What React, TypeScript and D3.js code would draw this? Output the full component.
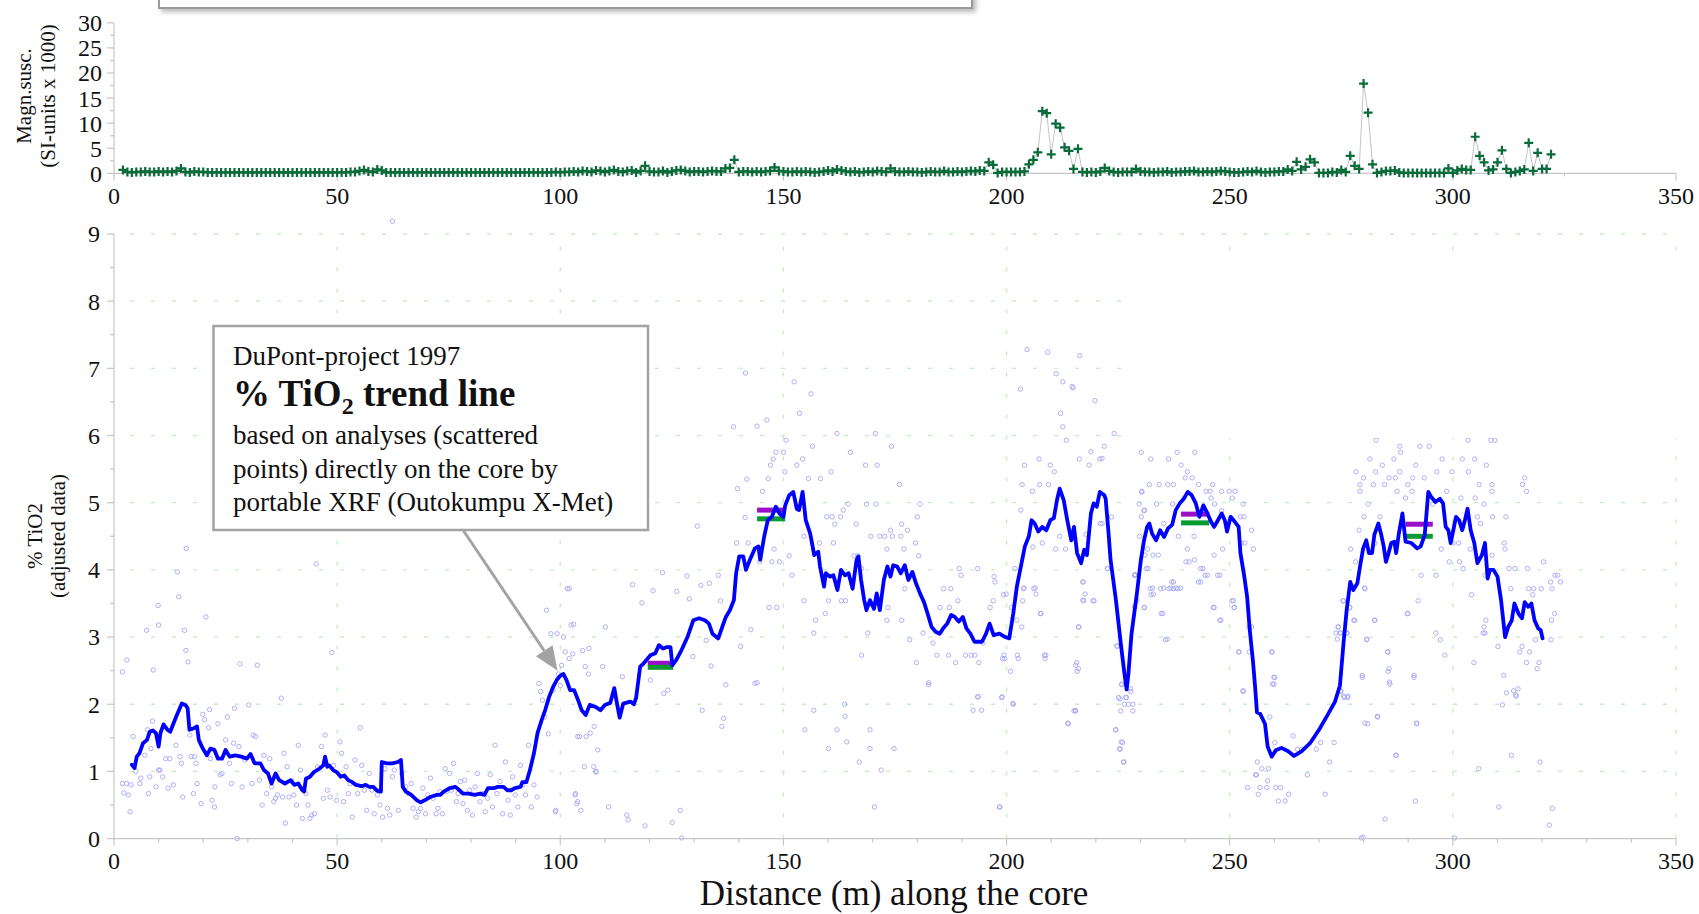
import React from "react";
import * as d3 from "d3";

const SERIF = "'Times New Roman', 'Liberation Serif', 'DejaVu Serif', serif";

// Axis tick values
const X_TICKS = [0, 50, 100, 150, 200, 250, 300, 350];
const MAG_TICKS = [0, 5, 10, 15, 20, 25, 30];
const TIO2_TICKS = [0, 1, 2, 3, 4, 5, 6, 7, 8, 9];

// Magnetic susceptibility, one reading per metre starting at 2 m
const MAG_START_M = 2;
const MAG_STEP_M = 1;
const MAG_VALUES = [
  0.7, 0.3, 0.2, 0.3, 0.3, 0.4, 0.3, 0.3, 0.4, 0.3,
  0.4, 0.3, 0.5, 1.0, 0.3, 0.2, 0.4, 0.3, 0.3, 0.2,
  0.2, 0.2, 0.2, 0.2, 0.2, 0.2, 0.2, 0.2, 0.2, 0.2,
  0.2, 0.2, 0.2, 0.2, 0.2, 0.2, 0.2, 0.2, 0.2, 0.2,
  0.2, 0.2, 0.2, 0.2, 0.2, 0.2, 0.2, 0.2, 0.2, 0.2,
  0.2, 0.3, 0.3, 0.5, 0.7, 0.4, 0.3, 0.8, 0.6, 0.2,
  0.2, 0.2, 0.2, 0.2, 0.2, 0.2, 0.2, 0.2, 0.2, 0.2,
  0.2, 0.2, 0.2, 0.2, 0.2, 0.2, 0.2, 0.2, 0.2, 0.2,
  0.2, 0.2, 0.2, 0.2, 0.2, 0.2, 0.2, 0.2, 0.2, 0.2,
  0.2, 0.2, 0.2, 0.2, 0.2, 0.2, 0.2, 0.3, 0.2, 0.3,
  0.3, 0.4, 0.3, 0.5, 0.4, 0.3, 0.6, 0.5, 0.3, 0.5,
  0.7, 0.4, 0.3, 0.5, 0.6, 0.2, 0.5, 1.5, 0.4, 0.3,
  0.3, 0.5, 0.2, 0.4, 0.6, 0.7, 0.5, 0.3, 0.4, 0.4,
  0.3, 0.4, 0.5, 0.4, 0.4, 1.0, 1.1, 2.7, 0.3, 0.4,
  0.4, 0.3, 0.4, 0.3, 0.4, 0.5, 1.2, 0.5, 0.4, 0.3,
  0.3, 0.4, 0.3, 0.4, 0.3, 0.2, 0.3, 0.4, 0.6, 0.4,
  0.8, 0.6, 0.4, 0.3, 0.4, 0.2, 0.3, 0.4, 0.3, 0.5,
  0.4, 0.3, 1.0, 0.4, 0.3, 0.3, 0.4, 0.3, 0.3, 0.2,
  0.3, 0.4, 0.3, 0.3, 0.5, 0.3, 0.3, 0.4, 0.3, 0.4,
  0.5, 0.4, 0.6, 0.5, 2.2, 1.7, 0.1, 0.3, 0.3, 0.3,
  0.3, 0.3, 0.4, 1.8, 2.7, 4.2, 12.4, 12.0, 3.8, 9.9,
  9.1, 5.2, 4.5, 0.9, 4.9, 0.3, 0.2, 0.3, 0.2, 0.4,
  1.1, 0.5, 0.3, 0.2, 0.3, 0.3, 0.3, 0.9, 0.4, 0.3,
  0.3, 0.2, 0.3, 0.3, 0.4, 0.2, 0.3, 0.3, 0.4, 0.4,
  0.5, 0.3, 0.3, 0.4, 0.3, 0.4, 0.5, 0.4, 0.3, 0.2,
  0.2, 0.3, 0.4, 0.3, 0.5, 0.3, 0.2, 0.3, 0.3, 0.4,
  0.4, 0.8, 0.5, 2.3, 0.8, 1.3, 2.8, 2.2, 0.1, 0.1,
  0.1, 0.3, 0.2, 0.7, 0.3, 3.5, 1.5, 0.9, 17.9, 12.1,
  1.8, 0.1, 0.3, 0.5, 0.5, 0.6, 0.2, 0.1, 0.1, 0.1,
  0.1, 0.1, 0.1, 0.1, 0.1, 0.1, 0.1, 1.0, 0.1, 0.6,
  0.9, 0.7, 0.7, 7.3, 3.5, 2.2, 0.6, 0.8, 2.2, 4.6,
  0.9, 0.1, 0.3, 0.5, 0.8, 6.1, 0.5, 4.1, 0.9, 0.9,
  3.8,
];

// % TiO2 trend line: [distance m, % TiO2]
const TREND = [
  [4.0, 1.1], [4.6, 1.05], [5.1, 1.22], [5.7, 1.27], [6.5, 1.42], [7.4, 1.47], [8.0, 1.59], [8.7, 1.61],
  [9.4, 1.57], [10.0, 1.37], [10.4, 1.57], [11.1, 1.7], [12.0, 1.62], [12.6, 1.59], [13.9, 1.81], [15.2, 2.01],
  [16.0, 1.99], [16.5, 1.94], [16.9, 1.62], [17.8, 1.64], [18.6, 1.67], [19.0, 1.47], [19.9, 1.34], [20.8, 1.24],
  [21.6, 1.34], [22.5, 1.32], [23.3, 1.19], [24.2, 1.19], [25.0, 1.32], [25.9, 1.22], [27.2, 1.24], [28.5, 1.22],
  [29.8, 1.19], [30.6, 1.26], [31.5, 1.12], [32.8, 1.12], [33.6, 1.02], [34.5, 0.97], [35.3, 0.82], [36.2, 0.97],
  [37.0, 0.87], [38.3, 0.82], [39.6, 0.87], [40.4, 0.8], [41.3, 0.82], [42.2, 0.72], [42.6, 0.7], [43.0, 0.89],
  [43.9, 0.92], [44.8, 0.99], [46.0, 1.04], [46.9, 1.09], [47.3, 1.22], [47.8, 1.07], [48.2, 1.09], [49.1, 1.02],
  [49.9, 0.99], [50.8, 0.92], [51.6, 0.94], [52.5, 0.87], [53.4, 0.84], [54.2, 0.8], [55.5, 0.78], [56.4, 0.8],
  [57.2, 0.77], [58.1, 0.77], [59.0, 0.71], [59.8, 0.7], [60.0, 1.14], [61.1, 1.12], [62.4, 1.12], [63.6, 1.14],
  [64.3, 1.17], [64.7, 0.77], [65.4, 0.7], [66.6, 0.65], [67.9, 0.57], [68.7, 0.54], [69.6, 0.57], [70.9, 0.62],
  [72.2, 0.65], [73.1, 0.65], [73.9, 0.7], [75.2, 0.75], [76.5, 0.77], [77.4, 0.72], [78.2, 0.67], [79.5, 0.67],
  [80.8, 0.65], [82.1, 0.67], [83.0, 0.65], [83.8, 0.75], [85.1, 0.75], [86.0, 0.77], [87.3, 0.77], [88.1, 0.72],
  [89.0, 0.72], [89.8, 0.75], [91.1, 0.77], [91.5, 0.84], [92.4, 0.84], [93.2, 1.02], [94.1, 1.27], [94.9, 1.57],
  [95.8, 1.76], [96.6, 1.91], [97.5, 2.11], [98.4, 2.26], [99.2, 2.36], [100.1, 2.43], [100.7, 2.45], [101.4, 2.36],
  [102.2, 2.21], [103.1, 2.21], [104.0, 2.06], [104.8, 1.91], [105.7, 1.84], [106.6, 1.99], [107.9, 1.96], [109.0, 1.91],
  [110.0, 1.99], [111.2, 2.02], [112.1, 2.24], [112.6, 2.05], [113.3, 1.8], [114.1, 2.01], [115.7, 2.04], [116.5, 2.0],
  [117.0, 2.1], [117.9, 2.56], [118.7, 2.61], [120.2, 2.73], [121.3, 2.76], [122.1, 2.88], [123.0, 2.83], [123.9, 2.85],
  [124.7, 2.85], [125.1, 2.58], [126.0, 2.66], [127.2, 2.81], [128.5, 3.0], [129.8, 3.25], [131.1, 3.28], [132.4, 3.25],
  [133.3, 3.2], [134.1, 3.05], [135.4, 2.98], [136.3, 3.15], [137.1, 3.3], [138.0, 3.4], [138.9, 3.55], [139.4, 3.95],
  [140.1, 4.2], [141.0, 4.2], [141.6, 4.0], [142.3, 4.12], [143.6, 4.32], [144.4, 4.35], [144.8, 4.15], [145.7, 4.5],
  [146.5, 4.74], [147.4, 4.79], [148.3, 4.94], [149.1, 4.84], [150.0, 4.79], [150.4, 4.96], [151.3, 5.11], [152.2, 5.16],
  [153.0, 4.91], [153.5, 4.89], [154.3, 5.16], [155.0, 4.74], [156.0, 4.54], [156.9, 4.22], [157.8, 4.27], [158.2, 4.05],
  [159.1, 3.75], [159.5, 3.95], [160.4, 3.9], [161.2, 3.92], [162.1, 3.7], [162.9, 4.0], [163.8, 3.92], [164.6, 3.95],
  [165.5, 3.72], [166.4, 4.15], [166.8, 4.2], [167.4, 3.85], [168.1, 3.55], [168.6, 3.4], [169.4, 3.55], [170.3, 3.42],
  [170.9, 3.65], [171.6, 3.4], [172.5, 3.85], [173.3, 4.05], [174.0, 3.9], [174.6, 4.07], [175.5, 4.05], [176.3, 3.95],
  [177.2, 4.07], [178.0, 3.85], [178.9, 3.97], [179.7, 3.8], [180.6, 3.65], [181.5, 3.52], [182.3, 3.35], [183.2, 3.15],
  [184.1, 3.08], [185.0, 3.05], [185.8, 3.13], [186.7, 3.2], [187.6, 3.33], [188.4, 3.3], [189.3, 3.23], [190.2, 3.3],
  [191.0, 3.13], [191.9, 3.05], [192.8, 2.93], [193.6, 2.93], [194.5, 2.93], [195.4, 3.05], [196.2, 3.2], [197.1, 3.03],
  [198.4, 3.05], [199.7, 3.0], [200.6, 2.98], [201.5, 3.35], [202.3, 3.75], [203.2, 4.05], [204.1, 4.35], [205.0, 4.5],
  [205.6, 4.74], [206.3, 4.69], [207.1, 4.57], [208.0, 4.64], [208.9, 4.59], [209.8, 4.74], [210.6, 4.77], [211.3, 5.04],
  [211.9, 5.21], [212.8, 5.04], [213.6, 4.74], [214.5, 4.44], [215.1, 4.64], [215.8, 4.25], [216.7, 4.1], [217.4, 4.3],
  [218.0, 4.22], [218.9, 4.84], [219.5, 4.99], [220.2, 4.94], [220.9, 5.16], [221.9, 5.11], [222.2, 5.06], [222.8, 4.59],
  [223.3, 4.15], [224.5, 3.55], [225.6, 2.9], [226.4, 2.46], [226.9, 2.22], [227.3, 2.45], [228.0, 3.05], [229.2, 3.65],
  [230.1, 4.15], [230.8, 4.44], [231.5, 4.64], [232.0, 4.69], [232.6, 4.54], [233.5, 4.44], [234.4, 4.59], [235.3, 4.49],
  [236.2, 4.62], [237.1, 4.67], [237.9, 4.89], [238.8, 4.99], [239.7, 5.06], [240.6, 5.16], [241.5, 5.11], [242.4, 4.99],
  [243.2, 4.79], [244.1, 4.96], [245.0, 4.84], [245.8, 4.72], [246.5, 4.64], [247.2, 4.72], [248.2, 4.84], [248.9, 4.74],
  [249.4, 4.57], [250.2, 4.79], [251.1, 4.72], [252.0, 4.64], [252.4, 4.25], [253.2, 3.93], [253.9, 3.6], [254.5, 3.1],
  [255.2, 2.65], [255.7, 2.25], [256.1, 1.88], [256.8, 1.86], [257.9, 1.71], [258.5, 1.37], [259.4, 1.22], [260.4, 1.32],
  [261.6, 1.35], [263.1, 1.3], [264.4, 1.23], [266.1, 1.3], [268.0, 1.42], [270.2, 1.64], [272.1, 1.86], [273.6, 2.04],
  [274.7, 2.28], [275.5, 2.91], [276.2, 3.4], [277.0, 3.82], [277.7, 3.7], [278.6, 3.8], [279.2, 4.05], [279.9, 4.32],
  [280.6, 4.44], [281.2, 4.25], [281.9, 4.25], [282.4, 4.52], [283.3, 4.69], [283.9, 4.54], [284.5, 4.35], [285.0, 4.12],
  [285.6, 4.25], [286.2, 4.4], [286.9, 4.42], [287.3, 4.25], [287.9, 4.54], [288.7, 4.84], [289.4, 4.42], [290.7, 4.4],
  [292.0, 4.32], [292.8, 4.35], [293.7, 4.52], [294.1, 4.84], [294.5, 5.16], [295.2, 5.08], [296.1, 5.01], [297.1, 5.06],
  [297.8, 4.99], [298.4, 4.64], [299.0, 4.59], [299.5, 4.4], [300.1, 4.59], [300.7, 4.79], [301.4, 4.74], [302.1, 4.59],
  [302.7, 4.74], [303.3, 4.91], [304.0, 4.59], [304.8, 4.4], [305.5, 4.1], [306.5, 4.22], [307.2, 4.4], [307.8, 3.87],
  [308.3, 4.0], [309.1, 4.0], [310.0, 3.9], [310.8, 3.55], [311.7, 3.0], [312.4, 3.15], [313.2, 3.25], [313.8, 3.5],
  [314.7, 3.35], [315.5, 3.28], [316.1, 3.52], [316.9, 3.45], [317.6, 3.5], [318.3, 3.25], [319.1, 3.13], [319.7, 3.1],
  [320.1, 2.98],
];

// Individual XRF analyses, 0-110 m: [distance m, % TiO2]
const SCATTER_A = [
  [1.9, 2.48], [2.9, 2.66], [1.9, 0.82], [2.8, 0.82], [2.2, 0.68], [3.2, 0.65], [3.6, 0.4], [3.8, 0.8],
  [4.3, 1.52], [4.9, 1.0], [5.8, 0.82], [6.0, 0.9], [6.9, 1.24], [7.3, 3.1], [7.5, 1.62], [7.7, 0.67],
  [8.0, 0.92], [8.3, 1.34], [8.6, 1.75], [8.8, 2.51], [9.4, 0.77], [9.9, 3.47], [10.0, 3.18], [10.0, 1.02],
  [10.3, 1.02], [10.9, 0.92], [11.6, 1.19], [12.1, 0.75], [12.5, 1.19], [13.3, 0.8], [13.9, 1.39], [14.2, 3.97],
  [14.5, 3.6], [14.8, 1.22], [15.1, 1.12], [15.4, 0.62], [15.8, 3.1], [16.1, 2.8], [16.2, 4.32], [16.6, 2.63],
  [17.0, 1.54], [17.3, 1.22], [17.8, 0.67], [18.0, 1.22], [18.4, 1.12], [18.6, 0.82], [19.5, 0.52], [19.9, 1.85],
  [20.3, 1.77], [20.6, 3.3], [21.2, 1.65], [21.4, 1.92], [21.6, 1.19], [22.0, 0.57], [22.5, 0.47], [22.6, 0.77],
  [23.3, 1.71], [23.8, 0.95], [24.2, 0.97], [25.0, 1.47], [25.4, 1.81], [25.9, 1.12], [26.3, 0.82], [26.8, 1.42],
  [27.0, 1.94], [27.6, 0.0], [28.0, 1.37], [28.2, 2.6], [28.7, 0.77], [29.3, 1.17], [30.2, 1.99], [30.9, 0.82],
  [31.2, 1.54], [31.7, 1.52], [32.1, 2.58], [32.6, 0.87], [33.2, 0.5], [33.6, 1.24], [34.2, 0.67], [34.9, 1.19],
  [35.3, 0.77], [35.8, 0.55], [36.2, 0.6], [36.6, 0.65], [37.5, 2.09], [37.8, 0.62], [38.1, 1.27], [38.4, 0.23],
  [38.8, 1.07], [39.2, 0.62], [39.8, 0.85], [40.3, 0.65], [40.9, 0.5], [41.3, 1.39], [41.8, 1.02], [42.2, 0.3],
  [43.0, 0.67], [43.5, 0.5], [43.9, 0.3], [44.3, 0.35], [44.9, 0.37], [45.3, 4.09], [45.6, 1.07], [46.5, 1.37],
  [46.9, 0.6], [47.3, 1.54], [47.8, 0.72], [48.4, 0.62], [48.8, 2.77], [49.2, 1.09], [49.9, 0.57], [50.6, 1.44],
  [51.0, 1.27], [51.4, 0.55], [52.0, 1.07], [52.5, 0.67], [52.9, 0.82], [53.4, 0.32], [54.0, 1.17], [54.6, 0.67],
  [55.2, 1.65], [55.5, 1.09], [56.1, 0.72], [56.6, 0.42], [57.2, 0.97], [57.8, 0.72], [58.3, 0.37], [59.0, 0.65],
  [59.6, 0.5], [60.2, 0.32], [60.7, 1.04], [61.3, 0.45], [61.8, 0.35], [62.4, 0.92], [62.8, 1.02], [63.7, 0.42],
  [64.5, 0.97], [65.4, 0.77], [66.0, 0.67], [66.6, 0.82], [67.0, 0.45], [67.7, 0.32], [68.2, 0.4], [68.7, 0.45],
  [69.2, 0.75], [69.8, 0.37], [70.3, 0.65], [70.9, 0.9], [71.5, 0.6], [72.2, 0.37], [72.6, 0.45], [73.1, 0.7],
  [73.6, 0.37], [74.2, 1.04], [74.6, 0.7], [75.2, 0.97], [75.6, 0.72], [76.1, 1.12], [76.7, 0.55], [77.1, 0.67],
  [77.6, 0.85], [78.2, 0.52], [78.6, 0.87], [79.2, 0.42], [79.7, 0.72], [80.3, 0.35], [80.9, 0.77], [81.4, 0.97],
  [82.0, 0.55], [82.6, 0.67], [83.2, 0.4], [83.7, 0.6], [84.3, 0.95], [84.8, 0.47], [85.4, 1.39], [85.8, 0.67],
  [86.5, 0.85], [87.1, 0.37], [87.7, 1.14], [88.3, 0.57], [88.8, 0.35], [89.3, 0.92], [89.9, 0.65], [90.5, 0.47],
  [91.1, 1.09], [91.6, 0.8], [92.2, 0.65], [92.9, 1.39], [93.5, 0.47], [94.1, 0.8], [94.8, 0.62], [95.2, 2.31],
  [95.6, 2.19], [96.0, 2.06], [96.5, 1.81], [96.9, 3.4], [97.3, 1.56], [97.9, 3.05], [98.4, 2.21], [98.9, 0.4],
  [99.3, 3.05], [99.6, 2.45], [100.0, 2.28], [100.3, 2.58], [100.7, 3.0], [101.1, 2.78], [101.6, 3.72], [102.0, 2.68],
  [102.4, 3.18], [102.8, 2.75], [103.3, 0.65], [103.7, 0.52], [103.9, 1.52], [104.6, 0.42], [105.0, 2.8], [105.4, 1.07],
  [105.8, 1.52], [106.3, 2.45], [106.7, 1.57], [107.6, 1.67], [108.0, 1.0], [108.4, 1.32], [62.4, 9.19], [103.4, 0.67],
  [103.9, 0.55], [99.0, 0.42], [107.5, 1.07], [108.0, 0.99],
];

// Individual XRF analyses, 100-200 m
const SCATTER_B = [
  [152.4, 6.8], [156.2, 6.62], [153.6, 6.33], [146.3, 6.23], [144.1, 6.14], [138.8, 6.13], [162.0, 6.03], [170.6, 6.03],
  [150.6, 5.93], [156.5, 5.84], [165.0, 5.75], [174.2, 5.84], [148.3, 5.75], [150.0, 5.75], [147.7, 5.65], [154.3, 5.65],
  [153.0, 5.56], [147.1, 5.56], [168.4, 5.56], [171.0, 5.56], [150.3, 5.46], [160.7, 5.46], [146.6, 5.36], [141.8, 5.35],
  [158.3, 5.36], [155.6, 5.36], [176.0, 5.27], [139.7, 5.21], [145.3, 5.17], [164.5, 4.98], [168.6, 4.98], [170.7, 4.98],
  [180.6, 4.98], [163.4, 4.89], [162.8, 4.79], [159.7, 4.79], [160.9, 4.79], [180.0, 4.79], [141.4, 4.78], [130.7, 4.65],
  [161.5, 4.68], [176.5, 4.68], [166.3, 4.68], [174.0, 4.59], [177.8, 4.59], [171.6, 4.5], [172.7, 4.5], [174.4, 4.5],
  [176.3, 4.5], [169.6, 4.5], [154.6, 4.5], [139.5, 4.4], [142.1, 4.4], [158.1, 4.4], [161.2, 4.4], [179.6, 4.4],
  [147.9, 4.31], [173.2, 4.31], [177.0, 4.31], [151.3, 4.21], [165.8, 4.21], [166.7, 4.21], [180.3, 4.21], [147.4, 4.12],
  [149.1, 4.12], [144.7, 4.12], [189.4, 4.02], [193.5, 4.02], [167.5, 4.02], [122.9, 3.96], [151.9, 3.92], [189.8, 3.92],
  [197.4, 3.82], [116.2, 3.78], [128.4, 3.91], [133.4, 3.8], [135.4, 3.92], [131.5, 3.77], [102.0, 3.72], [185.9, 3.72],
  [187.5, 3.72], [177.2, 3.72], [199.3, 3.63], [120.8, 3.69], [126.1, 3.68], [128.9, 3.57], [135.9, 3.54], [154.6, 3.54],
  [160.1, 3.54], [163.0, 3.54], [163.9, 3.54], [185.1, 3.44], [187.2, 3.44], [189.1, 3.54], [197.0, 3.54], [118.3, 3.51],
  [146.8, 3.44], [148.5, 3.44], [173.4, 3.44], [157.2, 3.25], [159.4, 3.35], [173.2, 3.25], [176.5, 3.25], [189.1, 3.25],
  [196.3, 3.44], [110.1, 3.15], [103.0, 3.19], [142.7, 3.11], [156.8, 3.06], [168.9, 3.06], [178.3, 2.96], [181.3, 3.06],
  [133.8, 2.57], [132.7, 2.95], [129.7, 2.71], [122.0, 2.58], [120.2, 2.36], [123.2, 2.16], [124.1, 2.21], [113.9, 2.41],
  [109.5, 2.56], [106.4, 2.83], [105.6, 2.56], [183.5, 2.91], [184.4, 2.73], [187.0, 2.73], [188.6, 2.62], [190.8, 2.73],
  [192.1, 2.73], [192.9, 2.73], [193.8, 2.62], [194.7, 2.91], [199.4, 2.73], [179.8, 2.62], [182.6, 2.32], [193.5, 2.11],
  [199.0, 2.11], [167.5, 2.73], [144.1, 2.32], [137.1, 2.29], [140.4, 2.86], [197.2, 3.9], [104.3, 1.52], [110.8, 0.47],
  [114.9, 0.35], [115.2, 0.28], [119.0, 0.19], [125.1, 0.24], [126.9, 0.42], [127.2, 0.01], [131.8, 1.91], [136.6, 1.79],
  [136.2, 1.67], [143.6, 2.31], [154.8, 1.62], [156.8, 1.91], [160.1, 1.34], [162.0, 1.62], [163.7, 2.0], [164.2, 1.44],
  [163.8, 1.82], [167.0, 1.14], [169.4, 1.62], [169.4, 1.34], [170.4, 0.47], [171.9, 1.02], [174.8, 1.34], [182.5, 2.29],
  [192.5, 1.91], [194.4, 1.91], [193.6, 2.11], [198.4, 0.47], [141.5, 6.93],
];

// Individual XRF analyses, 200-330 m
const SCATTER_C = [
  [203.5, 5.27], [205.8, 5.17], [207.4, 5.27], [209.4, 5.27], [210.7, 5.46], [212.6, 6.8], [214.7, 6.73], [212.1, 6.33],
  [212.6, 6.13], [213.4, 5.93], [219.8, 6.52], [224.1, 6.03], [218.9, 5.76], [221.9, 5.84], [220.9, 5.65], [218.5, 5.56],
  [216.3, 5.65], [207.3, 5.65], [204.0, 5.56], [209.8, 5.56], [203.2, 4.89], [208.0, 4.4], [211.0, 4.31], [213.2, 4.31],
  [211.9, 4.5], [217.8, 4.53], [221.0, 4.69], [217.1, 3.82], [217.1, 3.55], [219.4, 3.54], [207.7, 3.35], [203.8, 3.72],
  [206.1, 3.72], [205.9, 4.34], [208.5, 2.73], [228.7, 3.45], [227.8, 2.23], [225.4, 2.08], [216.2, 3.15], [230.2, 4.79],
  [230.9, 4.89], [230.3, 5.16], [202.4, 2.73], [208.8, 2.73], [215.7, 2.62], [216.1, 2.53], [228.7, 3.92], [204.6, 7.28],
  [216.4, 7.19], [214.9, 6.71], [203.1, 6.69], [209.2, 7.24], [211.1, 6.92],
  [221.4, 5.66], [230.2, 5.75], [232.3, 5.65], [236.3, 5.65], [238.2, 5.75], [242.2, 5.75], [239.1, 5.56], [240.5, 5.46],
  [240.0, 5.37], [241.6, 5.37], [230.3, 5.17], [232.0, 5.27], [234.2, 5.27], [236.1, 5.27], [237.4, 5.27], [243.0, 5.27],
  [246.2, 5.27], [244.7, 5.17], [245.6, 5.17], [248.2, 5.17], [249.9, 5.17], [251.2, 5.17], [245.8, 5.07], [250.6, 5.07],
  [229.7, 4.98], [233.6, 4.98], [237.2, 4.98], [246.6, 4.98], [253.0, 4.98], [230.8, 4.88], [223.5, 4.79], [248.2, 4.88],
  [252.4, 4.79], [253.2, 4.79], [235.2, 4.69], [221.4, 4.69], [254.9, 4.59], [229.8, 4.5], [238.5, 4.5], [242.0, 4.5],
  [252.6, 4.4], [253.4, 4.4], [231.6, 4.31], [240.5, 4.31], [255.3, 4.31], [231.0, 4.22], [232.8, 4.22], [234.0, 4.22],
  [246.5, 4.22], [248.4, 4.31], [240.2, 4.12], [242.1, 4.15], [222.6, 4.02], [231.3, 4.02], [243.5, 4.02], [228.8, 3.92],
  [244.5, 3.92], [247.3, 3.92], [243.0, 3.82], [237.0, 3.82], [232.2, 3.72], [234.5, 3.72], [236.4, 3.72], [237.4, 3.72],
  [238.4, 3.72], [232.4, 3.63], [250.5, 3.54], [230.8, 3.44], [246.3, 3.44], [251.0, 3.44], [234.6, 3.35], [247.8, 3.25],
  [235.6, 2.96], [254.3, 3.15], [224.8, 2.86], [252.1, 2.78], [259.5, 2.78], [260.1, 2.4], [259.9, 2.3], [253.0, 2.2],
  [225.8, 2.3], [226.7, 2.1],
  [282.8, 5.93], [288.1, 5.84], [288.3, 5.75], [292.6, 5.84], [294.7, 5.84], [303.4, 5.93], [308.5, 5.93], [309.4, 5.93],
  [281.4, 5.65], [286.8, 5.65], [297.6, 5.65], [302.1, 5.65], [304.9, 5.65], [284.2, 5.56], [291.7, 5.56], [307.5, 5.56],
  [278.3, 5.46], [282.7, 5.46], [288.1, 5.46], [296.4, 5.46], [299.8, 5.46], [303.5, 5.46], [280.0, 5.37], [285.7, 5.37],
  [287.1, 5.37], [291.0, 5.37], [293.6, 5.37], [316.1, 5.37], [279.2, 5.27], [282.2, 5.27], [284.7, 5.27], [289.9, 5.27],
  [305.9, 5.27], [308.8, 5.27], [315.6, 5.27], [279.2, 5.17], [287.5, 5.17], [290.9, 5.17], [298.6, 5.17], [308.8, 5.17],
  [316.5, 5.17], [289.4, 5.07], [301.8, 5.07], [305.0, 5.07], [281.0, 4.98], [295.5, 4.98], [307.0, 4.98], [280.1, 4.79],
  [283.7, 4.79], [305.5, 4.79], [308.9, 4.79], [311.9, 4.79], [279.0, 4.59], [306.2, 4.69], [282.5, 4.4], [300.0, 4.4],
  [301.3, 4.4], [311.5, 4.4], [277.1, 4.31], [297.4, 4.31], [303.9, 4.31], [311.7, 4.31], [308.8, 4.22], [278.2, 4.12],
  [299.2, 4.12], [301.5, 4.12], [320.3, 4.12], [302.3, 4.02], [312.6, 4.02], [313.9, 4.02], [316.7, 4.02], [292.9, 3.92],
  [296.2, 3.92], [307.2, 3.92], [322.9, 3.92], [323.5, 3.92], [321.9, 3.82], [324.1, 3.82], [280.3, 3.72], [313.0, 3.72],
  [317.0, 3.72], [318.1, 3.72], [319.8, 3.72], [322.2, 3.72], [304.2, 3.63], [317.9, 3.63], [275.4, 3.54], [292.2, 3.54],
  [276.9, 3.44], [289.8, 3.35], [322.8, 3.35], [277.8, 3.25], [282.5, 3.25], [307.4, 3.25], [322.1, 3.25], [307.0, 3.15],
  [274.3, 3.15], [273.8, 3.06], [274.9, 3.06], [276.2, 3.06], [306.8, 3.06], [307.2, 3.06], [296.2, 3.06], [280.7, 2.96],
  [297.2, 2.96], [318.5, 2.96], [322.0, 2.96], [310.1, 2.86], [315.5, 2.86], [285.4, 2.78], [315.0, 2.78], [317.2, 2.78],
  [298.2, 2.73], [304.7, 2.62], [316.5, 2.62], [319.3, 2.62], [318.9, 2.53], [285.7, 2.53], [279.7, 2.43], [291.3, 2.43],
  [285.8, 2.33], [311.4, 2.43], [314.6, 2.23], [314.2, 2.12], [274.9, 2.2], [275.5, 2.12], [276.5, 2.12],
  [199.9, 3.64], [201.9, 4.02], [203.9, 3.73], [206.4, 3.73], [206.6, 3.64], [203.6, 3.54], [201.1, 3.44], [207.6, 3.35],
  [202.3, 3.25], [203.4, 3.15], [199.1, 2.68], [199.6, 2.68], [202.6, 2.68], [208.6, 2.68], [200.9, 2.49], [198.9, 2.1],
  [201.5, 2.0], [198.5, 0.47], [213.8, 1.71], [215.1, 1.9], [215.5, 1.9], [215.5, 2.58], [215.8, 2.49], [216.1, 3.15],
  [217.1, 3.82], [217.6, 3.64], [217.3, 3.54], [219.6, 3.54], [222.6, 4.02], [224.7, 2.87], [224.5, 1.62], [226.0, 1.43],
  [225.4, 1.33], [226.3, 1.14], [225.1, 2.1], [225.6, 1.9], [225.8, 2.29], [226.9, 2.1], [226.4, 2.0], [227.3, 2.0],
  [228.3, 2.0], [228.3, 1.9], [227.8, 2.19], [228.8, 3.93], [229.2, 3.54], [230.9, 3.44], [231.7, 4.02], [232.7, 3.73],
  [232.9, 3.64], [235.0, 3.35], [235.2, 3.73], [236.0, 2.97], [236.8, 3.73], [237.4, 3.82], [238.0, 3.73], [239.0, 3.73],
  [240.9, 4.12], [243.5, 3.82], [244.0, 4.02], [245.0, 3.92], [246.5, 3.44], [247.8, 3.92], [248.0, 3.25], [250.8, 3.54],
  [251.0, 3.44], [252.0, 2.78], [253.0, 2.19], [254.4, 2.78], [254.9, 3.15], [259.4, 2.78], [259.9, 2.4], [259.6, 2.3],
  [259.0, 1.81], [260.1, 1.43], [264.2, 1.53], [256.2, 1.14], [255.8, 0.95], [256.0, 0.95], [257.2, 1.04], [258.7, 1.04],
  [258.5, 0.86], [254.0, 0.76], [256.8, 0.76], [258.3, 0.76], [260.3, 0.76], [261.4, 0.76], [256.4, 0.66], [263.2, 0.66],
  [260.9, 0.56], [262.4, 0.56], [265.2, 1.33], [266.1, 1.33], [267.4, 0.95], [269.4, 1.33], [270.4, 1.43], [273.4, 1.43],
  [272.4, 1.14], [271.4, 0.66], [274.9, 2.19], [275.7, 2.1], [276.4, 2.1], [274.1, 2.97], [274.7, 3.06], [276.3, 3.06],
  [274.3, 3.15], [275.5, 3.54], [278.0, 3.25], [276.9, 3.44], [279.7, 2.4], [280.2, 3.73], [280.7, 2.97], [280.9, 1.71],
  [282.5, 3.25], [283.1, 1.81], [284.8, 0.29], [285.4, 2.78], [285.5, 2.49], [285.9, 2.3], [287.2, 1.24], [279.9, 0.02],
  [291.3, 2.4], [289.9, 3.35], [291.9, 1.71], [291.6, 0.56], [201.4, 2.01], [213.7, 1.72], [215.4, 1.91], [224.4, 1.62],
  [225.4, 1.34], [225.7, 1.44], [226.2, 1.14], [279.5, 0.01], [280.3, 1.72], [283.1, 1.82], [287.3, 1.24], [291.9, 1.72],
  [300.4, 0.01], [305.8, 1.04], [310.3, 0.47], [311.1, 1.99], [313.1, 1.24], [319.5, 1.14], [321.6, 0.2], [322.3, 0.45],
  [314.1, 2.14], [313.6, 2.2], [312.0, 2.17],
];

// Reference levels shown as short bars: [from m, to m, % TiO2]
const PURPLE_LEVELS = [[119.6, 125.3, 2.61], [144.1, 150.4, 4.89], [239.1, 245.4, 4.83], [289.4, 295.5, 4.68]];
const GREEN_LEVELS = [[119.6, 125.3, 2.55], [144.1, 150.4, 4.76], [239.1, 245.4, 4.7], [289.4, 295.5, 4.5]];

// Where the annotation arrow points: the trend peak near 100 m
const ARROW_TARGET = [99.4, 2.5];

export default function App() {
  const W = 1699;
  const H = 914;

  const x = d3.scaleLinear().domain([0, 350]).range([114, 1676]);
  const yMag = d3.scaleLinear().domain([0, 30]).range([173.4, 22.8]);
  const y = d3.scaleLinear().domain([0, 9]).range([838.6, 234]);

  const magPoints = MAG_VALUES.map((v, i) => [MAG_START_M + i * MAG_STEP_M, v]);
  const magLine = d3.line<number[]>().x((d) => x(d[0])).y((d) => yMag(d[1]));
  const trendLine = d3.line<number[]>().x((d) => x(d[0])).y((d) => y(d[1]));

  const axisColor = "#c6c6c6";
  const gridColor = "#c3eec3";
  const scatter = [...SCATTER_A, ...SCATTER_B, ...SCATTER_C];

  // annotation box
  const box = { x: 213.5, y: 326, w: 434.5, h: 204 };
  const tail = [463, box.y + box.h];
  const tip = [x(ARROW_TARGET[0]), y(ARROW_TARGET[1])];
  const dx = tip[0] - tail[0];
  const dy = tip[1] - tail[1];
  const len = Math.hypot(dx, dy);
  const ux = dx / len;
  const uy = dy / len;
  const headLen = 24;
  const headHalf = 10;
  const baseX = tip[0] - ux * headLen;
  const baseY = tip[1] - uy * headLen;
  const head = [
    [tip[0], tip[1]],
    [baseX - uy * headHalf, baseY + ux * headHalf],
    [baseX + uy * headHalf, baseY - ux * headHalf],
  ];

  const minorX10 = d3.range(0, 351, 10);
  const minorX25 = d3.range(0, 351, 25);
  const minorMag = d3.range(0, 30.01, 2.5);
  const minorTi = d3.range(0, 9.01, 0.5);

  return (
    <svg
      width={W}
      height={H}
      viewBox={`0 0 ${W} ${H}`}
      style={{ position: "absolute", left: 0, top: 0, background: "#fff" }}
      fontFamily={SERIF}
    >
      <defs>
        <filter id="boxShadow" x="-5%" y="-50%" width="110%" height="200%">
          <feDropShadow dx="3" dy="3" stdDeviation="2.5" floodColor="#888" floodOpacity="0.6" />
        </filter>
      </defs>
      <rect x={0} y={0} width={W} height={H} fill="#fff" />

      {/* title panel running off the top edge */}
      <rect x={159} y={-30} width={813} height={38} fill="#fff" stroke="#9a9a9a" strokeWidth={2} filter="url(#boxShadow)" />

      {/* ---------- magnetic susceptibility panel ---------- */}
      <line x1={x(0)} x2={x(0)} y1={yMag(0)} y2={yMag(30)} stroke={axisColor} strokeWidth={1.2} />
      <line x1={x(0)} x2={x(350)} y1={yMag(0)} y2={yMag(0)} stroke={axisColor} strokeWidth={1.2} />
      {minorMag.map((t) => (
        <line key={`mm${t}`} x1={x(0) - (t % 5 === 0 ? 7 : 4)} x2={x(0)} y1={yMag(t)} y2={yMag(t)} stroke={axisColor} strokeWidth={1.2} />
      ))}
      {minorX25.map((t) => (
        <line key={`mx${t}`} x1={x(t)} x2={x(t)} y1={yMag(0)} y2={yMag(0) + (t % 50 === 0 ? 7 : 3)} stroke={axisColor} strokeWidth={1.2} />
      ))}
      {MAG_TICKS.map((t) => (
        <text key={`ml${t}`} x={102} y={yMag(t)} dy="0.35em" textAnchor="end" fontSize={24} fill="#111">
          {t}
        </text>
      ))}
      {X_TICKS.map((t) => (
        <text key={`mxl${t}`} x={x(t)} y={204} textAnchor="middle" fontSize={24} fill="#111">
          {t}
        </text>
      ))}
      <g transform={`translate(24, 96) rotate(-90)`}>
        <text x={0} y={0} dy="0.35em" textAnchor="middle" fontSize={21} fill="#111">
          Magn.susc.
        </text>
        <text x={0} y={24} dy="0.35em" textAnchor="middle" fontSize={21} fill="#111">
          (SI-units x 1000)
        </text>
      </g>
      <path d={magLine(magPoints) || ""} fill="none" stroke="#c4c4c4" strokeWidth={1} />
      {magPoints.map((d, i) => (
        <path
          key={`mp${i}`}
          d={`M${x(d[0]) - 4.5},${yMag(d[1])}H${x(d[0]) + 4.5}M${x(d[0])},${yMag(d[1]) - 4.5}V${yMag(d[1]) + 4.5}`}
          stroke="#0a6b3a"
          strokeWidth={2.2}
          fill="none"
        />
      ))}

      {/* ---------- TiO2 panel ---------- */}
      {TIO2_TICKS.filter((t) => t > 0).map((t) => (
        <line key={`gh${t}`} x1={x(0)} x2={x(350)} y1={y(t)} y2={y(t)} stroke={gridColor} strokeWidth={1.3} strokeDasharray="4 17" strokeDashoffset={-16} />
      ))}
      {X_TICKS.filter((t) => t > 0).map((t) => (
        <line key={`gv${t}`} x1={x(t)} x2={x(t)} y1={y(0)} y2={y(9)} stroke={gridColor} strokeWidth={1.3} strokeDasharray="4 17" />
      ))}

      {scatter.map((d, i) => (
        <circle key={`s${i}`} cx={x(d[0])} cy={y(d[1])} r={2.2} fill="none" stroke="#a2a2f4" strokeWidth={0.85} />
      ))}

      {/* blank legend area over the upper right of the plot */}
      <rect x={1137} y={266} width={562} height={172} fill="#fff" />

      <line x1={x(0)} x2={x(0)} y1={y(0)} y2={y(9)} stroke={axisColor} strokeWidth={1.2} />
      <line x1={x(0)} x2={x(350)} y1={y(0)} y2={y(0)} stroke={axisColor} strokeWidth={1.2} />
      {minorTi.map((t) => (
        <line key={`tm${t}`} x1={x(0) - (t % 1 === 0 ? 7 : 4)} x2={x(0)} y1={y(t)} y2={y(t)} stroke={axisColor} strokeWidth={1.2} />
      ))}
      {minorX10.map((t) => (
        <line key={`tx${t}`} x1={x(t)} x2={x(t)} y1={y(0)} y2={y(0) + (t % 50 === 0 ? 7 : 4)} stroke={axisColor} strokeWidth={1.2} />
      ))}
      {TIO2_TICKS.map((t) => (
        <text key={`tl${t}`} x={100} y={y(t)} dy="0.35em" textAnchor="end" fontSize={24} fill="#111">
          {t}
        </text>
      ))}
      {X_TICKS.map((t) => (
        <text key={`txl${t}`} x={x(t)} y={869} textAnchor="middle" fontSize={24} fill="#111">
          {t}
        </text>
      ))}
      <text x={894} y={905} textAnchor="middle" fontSize={35} fill="#111">
        Distance (m) along the core
      </text>
      <g transform={`translate(35, 536) rotate(-90)`}>
        <text x={0} y={0} dy="0.35em" textAnchor="middle" fontSize={21} fill="#111">
          % TiO2
        </text>
        <text x={0} y={23} dy="0.35em" textAnchor="middle" fontSize={21} fill="#111">
          (adjusted data)
        </text>
      </g>

      {PURPLE_LEVELS.map((d, i) => (
        <rect key={`pl${i}`} x={x(d[0])} y={y(d[2]) - 2.5} width={x(d[1]) - x(d[0])} height={5} fill="#9a0fc8" />
      ))}
      {GREEN_LEVELS.map((d, i) => (
        <rect key={`gl${i}`} x={x(d[0])} y={y(d[2]) - 2.5} width={x(d[1]) - x(d[0])} height={5} fill="#0a9a32" />
      ))}

      <path d={trendLine(TREND) || ""} fill="none" stroke="#0000ff" strokeWidth={3.8} strokeLinejoin="round" strokeLinecap="round" />

      {/* annotation */}
      <line x1={tail[0]} y1={tail[1]} x2={baseX} y2={baseY} stroke="#a3a3a3" strokeWidth={3} />
      <polygon points={head.map((p) => p.join(",")).join(" ")} fill="#a3a3a3" />
      <rect x={box.x} y={box.y} width={box.w} height={box.h} fill="#fff" stroke="#a3a3a3" strokeWidth={2.5} />
      <g fill="#111">
        <text x={233} y={365} fontSize={27}>DuPont-project 1997</text>
        <text x={233} y={406} fontSize={37} fontWeight="bold">
          % TiO<tspan fontSize={24} dy={8}>2</tspan>
          <tspan dy={-8}> trend line</tspan>
        </text>
        <text x={233} y={444} fontSize={27}>based on analyses (scattered</text>
        <text x={233} y={478} fontSize={27}>points) directly on the core by</text>
        <text x={233} y={511} fontSize={27}>portable XRF (Outokumpu X-Met)</text>
      </g>
    </svg>
  );
}
